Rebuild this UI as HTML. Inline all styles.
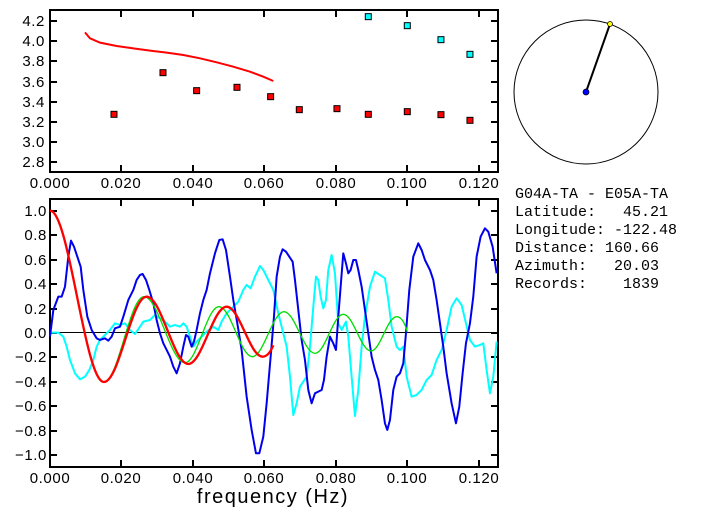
<!DOCTYPE html>
<html><head><style>
body{margin:0;background:#fff;}
svg{display:block;}
.t{font-family:"Liberation Sans",sans-serif;font-size:15px;letter-spacing:0.6px;fill:#000;}
.m{font-family:"Liberation Mono",monospace;font-size:15px;fill:#000;}
</style></head><body>
<svg width="702" height="519" viewBox="0 0 702 519" xmlns="http://www.w3.org/2000/svg">
<!-- top plot -->
<g fill="none" stroke="#000" stroke-width="2">
<rect x="50" y="10" width="448" height="162"/>
<path d="M121,10v7M193,10v7M264,10v7M336,10v7M407,10v7M479,10v7M121,172v-7M193,172v-7M264,172v-7M336,172v-7M407,172v-7M479,172v-7
M50,21h7M50,41h7M50,61h7M50,82h7M50,102h7M50,122h7M50,142h7M50,162h7M498,21h-7M498,41h-7M498,61h-7M498,82h-7M498,102h-7M498,122h-7M498,142h-7M498,162h-7"/>
</g>
<g transform="scale(0.3333)">
<polyline fill="none" stroke="#f00" stroke-width="6" points="255,97 270,115 300,128 350,138 400,145 450,152 500,158 550,165 600,175 650,187 700,200 750,215 790,230 820,243"/>
<g fill="#f00" stroke="#000" stroke-width="3">
<rect x="333" y="334" width="18" height="18"/><rect x="480" y="209" width="18" height="18"/><rect x="581" y="263" width="18" height="18"/><rect x="702" y="253" width="18" height="18"/><rect x="803" y="281" width="18" height="18"/><rect x="889" y="320" width="18" height="18"/><rect x="1002" y="317" width="18" height="18"/><rect x="1096" y="334" width="18" height="18"/><rect x="1213" y="326" width="18" height="18"/><rect x="1314" y="335" width="18" height="18"/><rect x="1401" y="352" width="18" height="18"/>
</g>
<g fill="#0ff" stroke="#000" stroke-width="3">
<rect x="1096" y="41" width="18" height="18"/><rect x="1213" y="68" width="18" height="18"/><rect x="1314" y="110" width="18" height="18"/><rect x="1401" y="154" width="18" height="18"/>
</g>
</g>
<g class="t" text-anchor="end">
<text x="45" y="26">4.2</text><text x="45" y="46">4.0</text><text x="45" y="66">3.8</text><text x="45" y="87">3.6</text><text x="45" y="107">3.4</text><text x="45" y="127">3.2</text><text x="45" y="147">3.0</text><text x="45" y="167">2.8</text>
</g>
<g class="t" text-anchor="middle">
<text x="50" y="188">0.000</text><text x="121" y="188">0.020</text><text x="193" y="188">0.040</text><text x="264" y="188">0.060</text><text x="336" y="188">0.080</text><text x="407" y="188">0.100</text><text x="479" y="188">0.120</text>
</g>

<!-- bottom plot -->
<g fill="none" stroke="#000" stroke-width="2">
<rect x="50" y="199" width="448" height="268"/>
<path d="M121,199v7M193,199v7M264,199v7M336,199v7M407,199v7M479,199v7M121,467v-7M193,467v-7M264,467v-7M336,467v-7M407,467v-7M479,467v-7
M50,211h7M50,235h7M50,260h7M50,284h7M50,309h7M50,333h7M50,357h7M50,382h7M50,406h7M50,431h7M50,455h7
M498,211h-7M498,235h-7M498,260h-7M498,284h-7M498,309h-7M498,333h-7M498,357h-7M498,382h-7M498,406h-7M498,431h-7M498,455h-7"/>
</g>
<line x1="50" y1="332.5" x2="498" y2="332.5" stroke="#000" stroke-width="1"/>
<g transform="translate(0,190) scale(0.3333)" fill="none" stroke-linejoin="round">
<polyline stroke="#00ffff" stroke-width="6" points="150,428 175,428 190,440 200,470 210,510 225,550 240,568 255,560 268,540 280,510 290,470 300,450 315,435 330,420 345,400 360,405 375,400 390,420 405,432 420,410 430,395 450,390 465,375 480,385 495,395 510,410 525,405 540,410 550,400 560,410 570,440 580,470 590,455 605,440 620,425 640,410 655,420 665,395 680,370 700,350 715,335 730,300 740,285 752,295 765,260 780,228 790,240 805,270 820,300 835,370 850,430 860,470 870,560 880,675 890,640 900,590 910,575 920,560 930,470 940,350 948,260 955,270 962,320 970,355 978,330 985,240 995,195 1005,250 1015,400 1025,420 1038,395 1045,440 1055,560 1065,678 1075,600 1085,470 1095,380 1110,290 1125,245 1140,255 1155,265 1165,330 1175,410 1190,470 1200,480 1210,470 1220,560 1235,620 1250,615 1265,600 1280,570 1295,555 1310,510 1325,480 1340,420 1355,350 1370,325 1385,345 1398,400 1410,450 1425,470 1440,465 1450,460 1460,540 1470,610 1480,560 1490,455"/>
<polyline stroke="#0000ee" stroke-width="6" points="150,440 160,360 175,320 185,320 195,290 205,200 213,152 222,170 232,200 242,230 250,300 262,380 275,420 290,445 300,450 315,445 325,452 335,440 345,415 360,410 370,380 385,330 400,300 410,270 420,255 428,252 438,270 448,300 460,340 470,390 480,430 490,460 500,480 510,500 520,530 530,550 540,520 550,470 558,435 565,440 575,470 582,455 590,420 600,370 610,330 620,300 630,250 645,190 658,150 668,148 678,180 690,260 700,330 712,400 725,480 740,620 755,720 768,790 778,790 790,740 800,640 812,500 822,380 830,260 840,200 848,178 858,185 868,200 878,215 885,270 895,360 905,450 915,510 925,600 935,640 945,610 955,605 965,600 972,570 980,500 990,440 1000,460 1008,480 1015,380 1022,290 1030,190 1038,220 1045,250 1052,240 1060,210 1068,210 1075,240 1085,290 1095,360 1105,430 1115,500 1125,540 1135,570 1145,630 1155,700 1162,720 1170,690 1180,600 1190,560 1200,550 1210,520 1218,430 1228,300 1240,200 1255,160 1265,180 1275,210 1290,240 1300,270 1310,330 1320,400 1330,470 1340,550 1355,640 1368,700 1378,650 1388,550 1398,460 1410,400 1420,320 1430,200 1442,140 1455,115 1465,125 1478,170 1490,250"/>
<path stroke="#00dd00" stroke-width="4" d="M150,62 C208,62 254,576 312,576 C355,576 389,320 432,320 C476,320 511,518 555,518 C592,518 620,350 657,350 C693,350 721,500 757,500 C791,500 818,365 852,365 C885,365 912,490 945,490 C976,490 999,373 1030,373 C1060,373 1083,483 1113,483 C1141,483 1162,380 1190,380 C1205,380 1215,400 1222,425"/>
<path stroke="#ff0000" stroke-width="7" d="M150,62 C208,62 254,576 312,576 C358,576 394,320 440,320 C485,320 520,522 565,522 C606,522 639,350 680,350 C719,350 749,500 788,500 C800,500 810,490 820,466"/>
</g>
<g class="t" text-anchor="end">
<text x="47" y="216">1.0</text><text x="47" y="240">0.8</text><text x="47" y="265">0.6</text><text x="47" y="289">0.4</text><text x="47" y="314">0.2</text><text x="47" y="338">0.0</text><text x="47" y="362">−0.2</text><text x="47" y="387">−0.4</text><text x="47" y="411">−0.6</text><text x="47" y="436">−0.8</text><text x="47" y="460">−1.0</text>
</g>
<g class="t" text-anchor="middle">
<text x="50" y="483">0.000</text><text x="121" y="483">0.020</text><text x="193" y="483">0.040</text><text x="264" y="483">0.060</text><text x="336" y="483">0.080</text><text x="407" y="483">0.100</text><text x="479" y="483">0.120</text>
</g>
<text x="273" y="503" text-anchor="middle" font-family="Liberation Sans,sans-serif" font-size="20" letter-spacing="1.5">frequency (Hz)</text>

<!-- circle -->
<circle cx="586" cy="92" r="72" fill="none" stroke="#000" stroke-width="1"/>
<line x1="586" y1="92" x2="610" y2="24" stroke="#000" stroke-width="2"/>
<circle cx="586" cy="92" r="3" fill="#00f" stroke="#000" stroke-width="0.7"/>
<circle cx="610" cy="24" r="2.5" fill="#ff0" stroke="#000" stroke-width="0.7"/>

<g class="m">
<text x="515" y="198">G04A-TA&#160;-&#160;E05A-TA</text>
<text x="515" y="216">Latitude:&#160;&#160;&#160;45.21</text>
<text x="515" y="234">Longitude:&#160;-122.48</text>
<text x="515" y="252">Distance:&#160;160.66</text>
<text x="515" y="270">Azimuth:&#160;&#160;&#160;20.03</text>
<text x="515" y="288">Records:&#160;&#160;&#160;&#160;1839</text>
</g>
</svg>
</body></html>
